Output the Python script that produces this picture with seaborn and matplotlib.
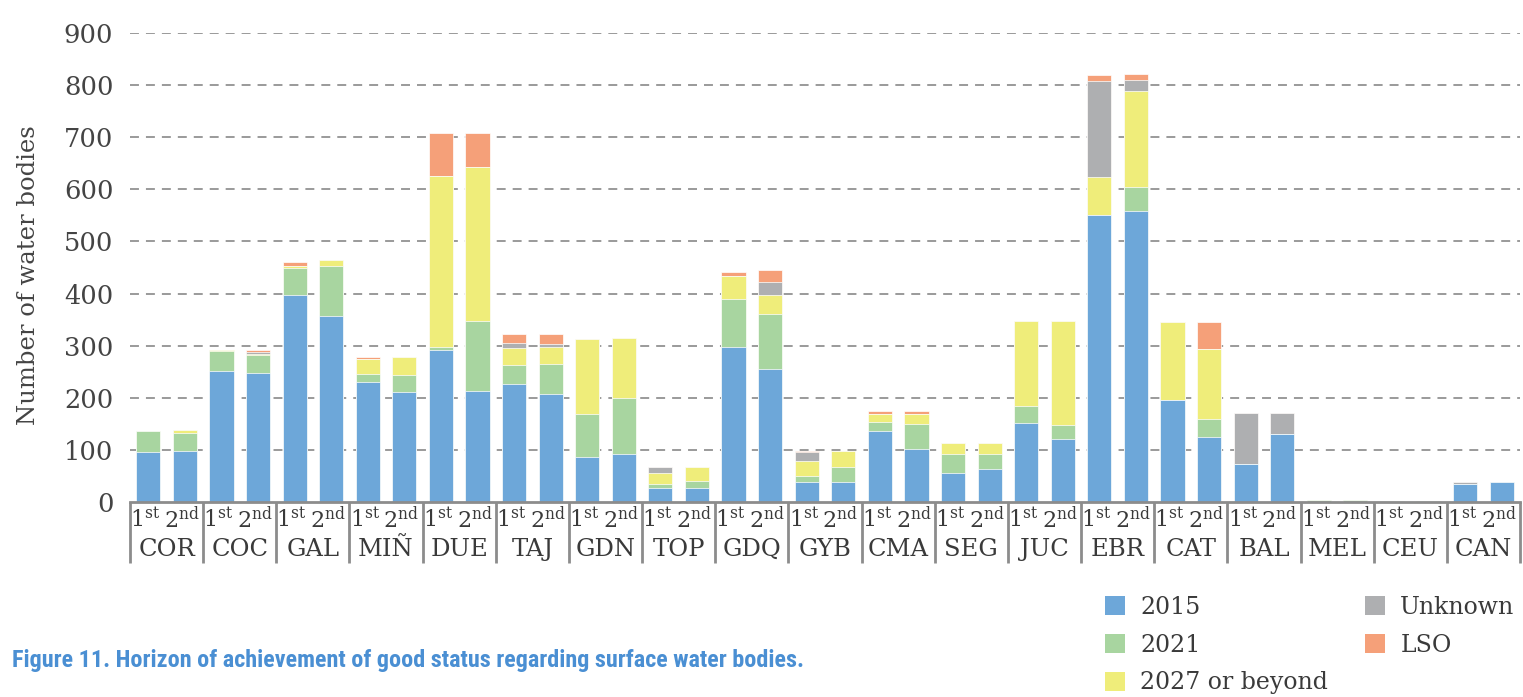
import numpy as np
import pandas as pd
import matplotlib
matplotlib.use("Agg")
import matplotlib.pyplot as plt
import matplotlib.transforms as mtransforms
from matplotlib.patches import Patch
from matplotlib import font_manager
import seaborn as sns

# River basin districts and planning cycles
basins = ["COR", "COC", "GAL", "MIÑ", "DUE", "TAJ", "GDN", "TOP", "GDQ", "GYB",
          "CMA", "SEG", "JUC", "EBR", "CAT", "BAL", "MEL", "CEU", "CAN"]
cycles = ["1st", "2nd"]

# Surface water bodies by horizon of good status, first planning cycle
h2015_1st = [95, 252, 397, 231, 292, 227, 87, 27, 298, 39, 136, 56, 151, 551, 195, 72, 0, 0, 34]
h2021_1st = [42, 37, 53, 15, 6, 35, 81, 7, 92, 11, 18, 37, 34, 0, 0, 0, 3, 1, 0]
h2027_1st = [0, 3, 3, 29, 328, 33, 144, 21, 44, 28, 14, 20, 163, 73, 150, 0, 0, 0, 0]
unk_1st = [0, 0, 0, 0, 0, 10, 1, 12, 0, 18, 0, 0, 0, 184, 0, 99, 0, 0, 5]
lso_1st = [0, 0, 8, 3, 83, 17, 0, 0, 8, 1, 7, 0, 0, 12, 0, 0, 0, 0, 0]

# Surface water bodies by horizon of good status, second planning cycle
h2015_2nd = [97, 248, 356, 211, 213, 208, 93, 26, 255, 39, 101, 63, 121, 559, 125, 131, 0, 0, 39]
h2021_2nd = [36, 34, 97, 33, 135, 56, 107, 14, 106, 29, 49, 30, 27, 46, 34, 0, 3, 1, 0]
h2027_2nd = [5, 2, 12, 34, 294, 34, 115, 27, 36, 29, 18, 20, 200, 183, 135, 0, 0, 0, 0]
unk_2nd = [0, 3, 0, 0, 0, 5, 0, 0, 25, 0, 1, 0, 0, 22, 0, 39, 0, 0, 0]
lso_2nd = [0, 5, 0, 0, 66, 19, 0, 0, 23, 0, 6, 0, 0, 12, 51, 0, 0, 0, 0]

series_labels = ["2015", "2021", "2027 or beyond", "Unknown", "LSO"]
series_colors = ["#6da7d9", "#a8d5a0", "#efed7a", "#aeafb1", "#f5a079"]


def interleave(a, b):
    out = []
    for x, y in zip(a, b):
        out.extend([x, y])
    return np.array(out, dtype=float)


stack = np.vstack([
    interleave(h2015_1st, h2015_2nd),
    interleave(h2021_1st, h2021_2nd),
    interleave(h2027_1st, h2027_2nd),
    interleave(unk_1st, unk_2nd),
    interleave(lso_1st, lso_2nd),
])
cum = np.cumsum(stack, axis=0)
bar_ids = [f"{b} {c}" for b in basins for c in cycles]

sns.set_theme(style="white")
plt.rcParams["font.family"] = ["DejaVu Serif"]
plt.rcParams["mathtext.fontset"] = "dejavuserif"
text_color = "#3a3a3a"

W, H = 1523, 697
fig = plt.figure(figsize=(W / 100, H / 100), dpi=100)
ax = fig.add_axes([130 / W, 1 - 502 / H, 1390 / W, 469 / H])

# Stacked bars: draw cumulative totals from the top segment down
for i in range(len(series_labels) - 1, -1, -1):
    df = pd.DataFrame({"bar": bar_ids, "total": cum[i]})
    sns.barplot(data=df, x="bar", y="total", order=bar_ids, color=series_colors[i],
                saturation=1, width=0.66, edgecolor="white", linewidth=0.5,
                errorbar=None, ax=ax, zorder=2)

ax.set_xlim(-0.5, len(bar_ids) - 0.5)
ax.set_ylim(0, 900)

# Dashed horizontal gridlines
for v in range(100, 1000, 100):
    ax.axhline(v, color="#9a9a9a", lw=1.4, ls=(0, (4.6, 3.6)), zorder=0.5)

ax.set_yticks(range(0, 1000, 100))
ax.tick_params(axis="y", length=0, pad=12, labelsize=18.5, labelcolor="#444444")
ax.set_xticks([])
ax.set_xlabel("")
ax.set_ylabel("Number of water bodies", fontsize=17.5, color="#444444")
ax.yaxis.set_label_coords(-0.0647, 0.484)

for s in ["top", "right", "left"]:
    ax.spines[s].set_visible(False)
ax.spines["bottom"].set_color("#8c8c8c")
ax.spines["bottom"].set_linewidth(2)

# Two-level category axis: cycle labels and basin names with separators
trans = mtransforms.blended_transform_factory(ax.transData, ax.transAxes)
for b in np.arange(-0.5, len(bar_ids), 2):
    ax.plot([b, b], [0, -0.13], transform=trans, color="#8c8c8c", lw=2,
            clip_on=False, solid_capstyle="butt")

cycle_tex = {"1st": r"$\mathrm{1^{st}}$", "2nd": r"$\mathrm{2^{nd}}$"}
for i, bid in enumerate(bar_ids):
    c = bid.split()[-1]
    ax.text(i - 0.08, -0.0554, cycle_tex[c], transform=trans, ha="center", va="baseline",
            fontsize=16, color=text_color)
for g, name in enumerate(basins):
    ax.text(2 * g + 0.5, -0.115, name, transform=trans, ha="center", va="baseline",
            fontsize=17.5, color=text_color)

# Legend
handles = [Patch(facecolor=c, edgecolor="none") for c in series_colors]
leg = fig.legend(handles, series_labels, ncol=2, loc="upper left",
                 bbox_to_anchor=(1105 / W, 1 - 596 / H), frameon=False, fontsize=17,
                 handlelength=0.85, handleheight=0.85, handletextpad=0.65,
                 columnspacing=1.55, labelspacing=0.62, borderpad=0, borderaxespad=0)
for t in leg.get_texts():
    t.set_color(text_color)

# Caption in a condensed bold face where one is installed
names = {f.name for f in font_manager.fontManager.ttflist}
cap_family = [n for n in ["Roboto Condensed", "Open Sans Condensed", "Liberation Sans Narrow",
                          "DejaVu Sans"] if n in names]
cap_size = 17.4 if cap_family[0] != "DejaVu Sans" else 13.5
fig.text(12 / W, 1 - 667 / H,
         "Figure 11. Horizon of achievement of good status regarding surface water bodies.",
         ha="left", va="baseline", color="#4a8fd3", fontsize=cap_size, fontweight="bold",
         family=cap_family, fontstretch="condensed")

fig.savefig("out.png", dpi=100)
